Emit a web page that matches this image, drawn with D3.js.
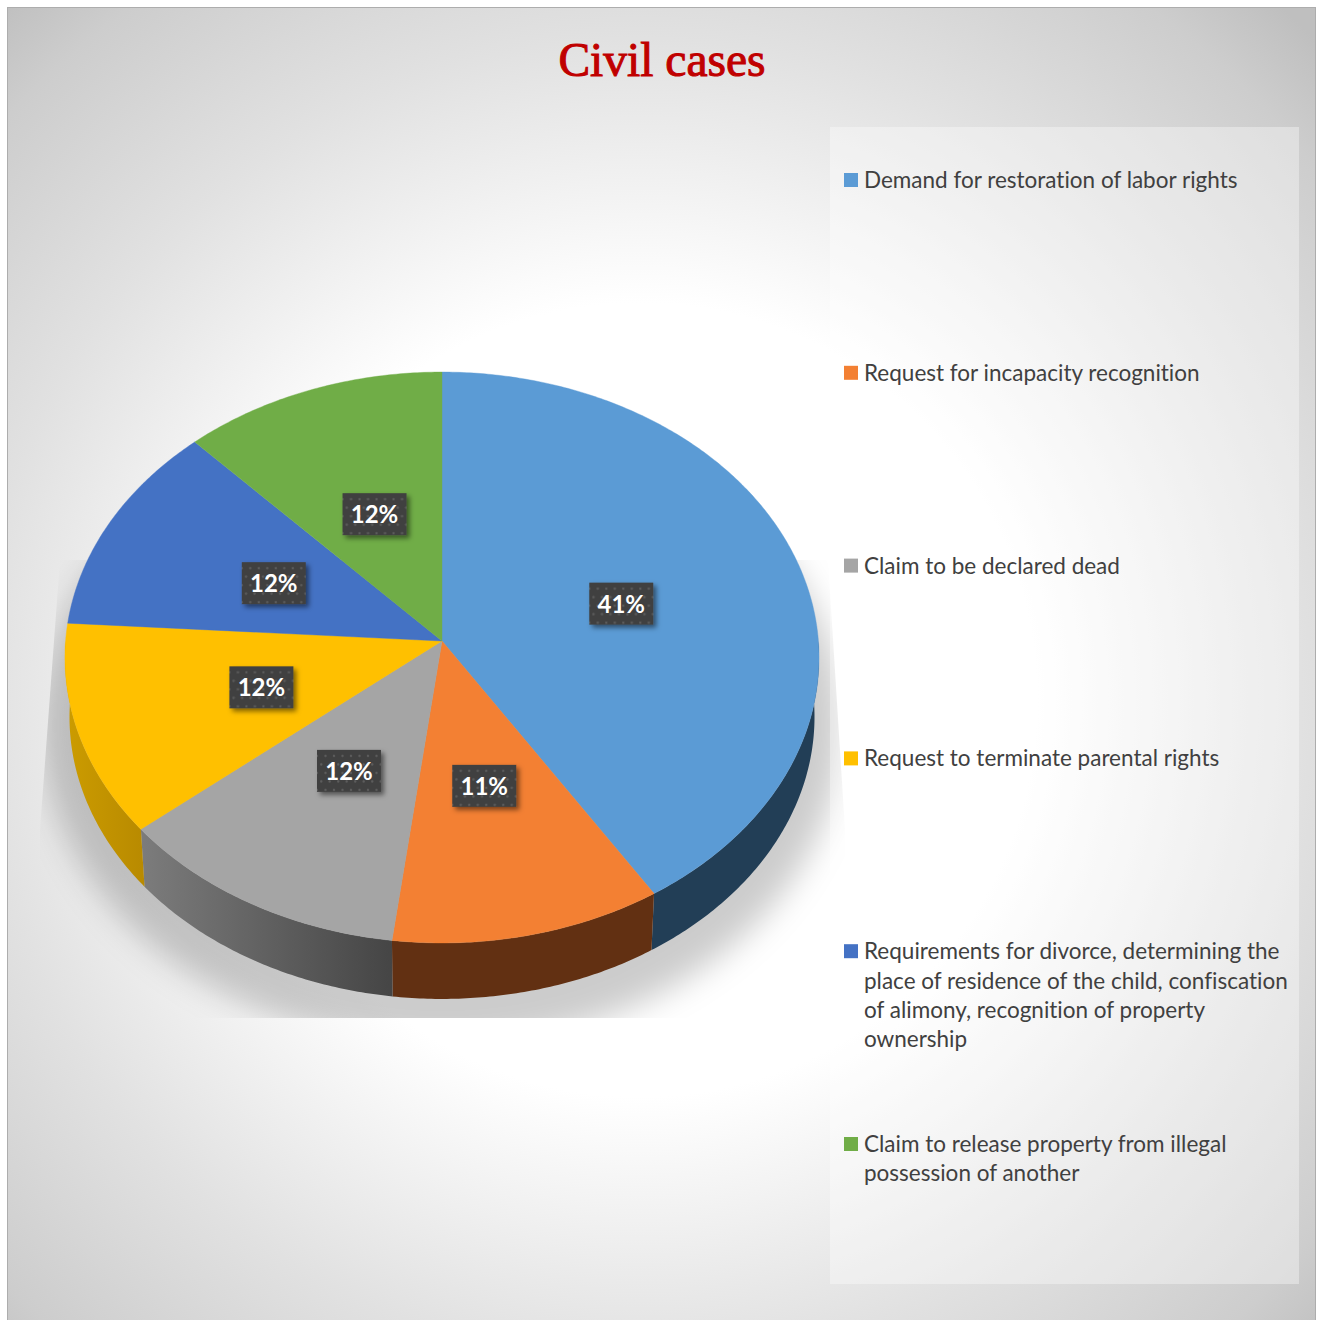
<!DOCTYPE html>
<html>
<head>
<meta charset="utf-8">
<title>Civil cases</title>
<script src="https://cdn.jsdelivr.net/npm/d3@7"></script>
<style>
html, body { margin: 0; padding: 0; background: #fff; }
svg { display: block; }
text { font-variant-ligatures: none; }
</style>
</head>
<body>
<svg id="chart" width="1320" height="1320"></svg>
<script>
// Case categories, in the order they run clockwise from twelve o'clock.
const categories = [
  "Demand for restoration of labor rights",
  "Request for incapacity recognition",
  "Claim to be declared dead",
  "Request to terminate parental rights",
  "Requirements for divorce, determining the\nplace of residence of the child, confiscation\nof alimony, recognition of property\nownership",
  "Claim to release property from illegal\npossession of another"
];
const shares = [41, 11, 12, 12, 12, 12];
const topColors = ["#5b9bd5", "#f38033", "#a5a5a5", "#ffc000", "#4472c4", "#70ad47"];
const sideColorsNear = ["#223e56", "#623012", "#7c7c7c", "#cc9c00", "#223966", "#385724"];
const sideColorsFar = ["#223e56", "#623012", "#454545", "#b88a00", "#223966", "#385724"];

const svg = d3.select("#chart");
const defs = svg.append("defs");

// Page-wide radial backdrop.
const bg = defs.append("radialGradient").attr("id", "backdrop")
  .attr("gradientUnits", "userSpaceOnUse")
  .attr("cx", 640).attr("cy", 700).attr("r", 945);
[[0, "#ffffff"], [0.42, "#ffffff"], [0.7, "#e1e1e1"], [0.91, "#cdcdcd"], [1, "#bfbfbf"]].forEach(([o, c]) =>
  bg.append("stop").attr("offset", o).attr("stop-color", c));

svg.append("rect").attr("x", 7.5).attr("y", 7.5).attr("width", 1308).attr("height", 1320)
  .attr("fill", "url(#backdrop)").attr("stroke", "#adadad");

// Perspective projection of the unit disc onto the page.
const perspective = 0.0578;
const px = d3.scaleLinear().domain([-1, 1]).range([442 - 376.4, 442 + 376.4]);
const py = d3.scaleLinear().domain([-1, 1]).range([641 + 284.5, 641 - 284.5]);
const depthDrop = 59.6;
const depthScale = 0.988;

function project(theta, radius, lower) {
  const X = radius * Math.sin(theta), Y = radius * Math.cos(theta);
  const w = 1 + perspective * Y;
  const s = lower ? depthScale : 1;
  const x = px(0) + (px(X / w) - px(0)) * s;
  const y = py(0) + (py(Y / w) - py(0)) * s + (lower ? depthDrop : 0);
  return [x, y];
}
const angleSteps = (a, b) => {
  const n = Math.max(2, Math.ceil((b - a) / 0.01));
  return d3.range(n + 1).map(i => a + (b - a) * i / n);
};

const slices = d3.pie().sort(null).value(d => d)(shares);
const outline = d3.line();

// Soft shadow under the disc, cut off by its own bounding shape.
defs.append("filter").attr("id", "shadowBlur")
  .attr("x", "-20%").attr("y", "-20%").attr("width", "140%").attr("height", "140%")
  .append("feGaussianBlur").attr("stdDeviation", 16);
defs.append("clipPath").attr("id", "shadowClip").append("polygon")
  .attr("points", "60,560 828,560 845,830 845,1018 40,1018 40,830");
svg.append("g").attr("clip-path", "url(#shadowClip)")
  .append("ellipse")
  .attr("cx", 442).attr("cy", 725).attr("rx", 400).attr("ry", 320)
  .attr("fill", "#000").attr("fill-opacity", 0.2)
  .attr("filter", "url(#shadowBlur)");

// Side wall of the disc: only the part between the two silhouette points shows.
slices.forEach((d, i) => {
  const a = Math.max(d.startAngle, Math.PI / 2), b = Math.min(d.endAngle, Math.PI * 1.5);
  if (b <= a) return;
  const steps = angleSteps(a, b);
  const upper = steps.map(t => project(t, 1, false));
  const lower = steps.slice().reverse().map(t => project(t, 1, true));
  const gid = "side" + i;
  const xs = upper.map(p => p[0]).concat(lower.map(p => p[0]));
  const g = defs.append("linearGradient").attr("id", gid)
    .attr("gradientUnits", "userSpaceOnUse")
    .attr("x1", d3.min(xs)).attr("x2", d3.max(xs)).attr("y1", 0).attr("y2", 0);
  g.append("stop").attr("offset", 0).attr("stop-color", sideColorsNear[i]);
  g.append("stop").attr("offset", 1).attr("stop-color", sideColorsFar[i]);
  svg.append("path")
    .attr("d", outline(upper.concat(lower)) + "Z")
    .attr("fill", `url(#${gid})`);
});

// Top face slices.
svg.append("g").selectAll("path").data(slices).join("path")
  .attr("d", d => outline([project(0, 0, false)].concat(
    angleSteps(d.startAngle, d.endAngle).map(t => project(t, 1, false)))) + "Z")
  .attr("fill", (d, i) => topColors[i])
  .attr("stroke", (d, i) => topColors[i])
  .attr("stroke-width", 0.4);

// Translucent panel behind the legend.
svg.append("rect").attr("x", 830).attr("y", 127).attr("width", 469).attr("height", 1157)
  .attr("fill", "#fff").attr("fill-opacity", 0.36);

// Title.
svg.append("text").attr("x", 662).attr("y", 76).attr("text-anchor", "middle")
  .attr("font-family", "'Liberation Serif', serif")
  .attr("font-size", 47.5).attr("fill", "#c00000")
  .attr("stroke", "#c00000").attr("stroke-width", 1)
  .text("Civil cases");

// Dotted fill and drop shadow of the value tags.
const dots = defs.append("pattern").attr("id", "tagDots")
  .attr("patternUnits", "userSpaceOnUse").attr("width", 17).attr("height", 17);
dots.append("rect").attr("width", 17).attr("height", 17).attr("fill", "#404040");
[[2, 2], [10.5, 2], [6.2, 10.5], [14.7, 10.5]].forEach(([x, y]) =>
  dots.append("circle").attr("cx", x).attr("cy", y).attr("r", 1.2).attr("fill", "#5c5c5c"));
const tagShadow = defs.append("filter").attr("id", "tagShadow")
  .attr("x", "-20%").attr("y", "-30%").attr("width", "150%").attr("height", "170%");
tagShadow.append("feDropShadow").attr("dx", 3).attr("dy", 3).attr("stdDeviation", 2.5)
  .attr("flood-color", "#000").attr("flood-opacity", 0.5);

const tagW = 64, tagH = 42;
const tags = svg.append("g").selectAll("g").data(slices).join("g")
  .attr("transform", d => {
    const [x, y] = project((d.startAngle + d.endAngle) / 2, 0.5, false);
    return `translate(${x},${y + 2})`;
  });
tags.append("rect")
  .attr("x", -tagW / 2).attr("y", -tagH / 2).attr("width", tagW).attr("height", tagH)
  .attr("fill", "url(#tagDots)").attr("filter", "url(#tagShadow)");
tags.append("text")
  .attr("text-anchor", "middle").attr("y", 9)
  .attr("font-family", "Lato, sans-serif").attr("font-weight", 700)
  .attr("font-size", 24).attr("fill", "#fff")
  .text(d => d.value + "%");

// Legend.
const legendY = d3.scalePoint().domain(categories).range([180, 1144]);
const legend = svg.append("g").selectAll("g").data(categories).join("g")
  .attr("transform", d => `translate(844,${legendY(d)})`);
legend.append("rect").attr("x", 0).attr("y", -7).attr("width", 14).attr("height", 14)
  .attr("fill", (d, i) => topColors[i]);
legend.append("text")
  .attr("font-family", "Lato, sans-serif").attr("font-size", 22.5)
  .attr("fill", "#404040")
  .selectAll("tspan").data(d => d.split("\n")).join("tspan")
  .attr("x", 20).attr("y", (d, i) => 8 + i * 29.4)
  .text(d => d);
</script>
</body>
</html>
